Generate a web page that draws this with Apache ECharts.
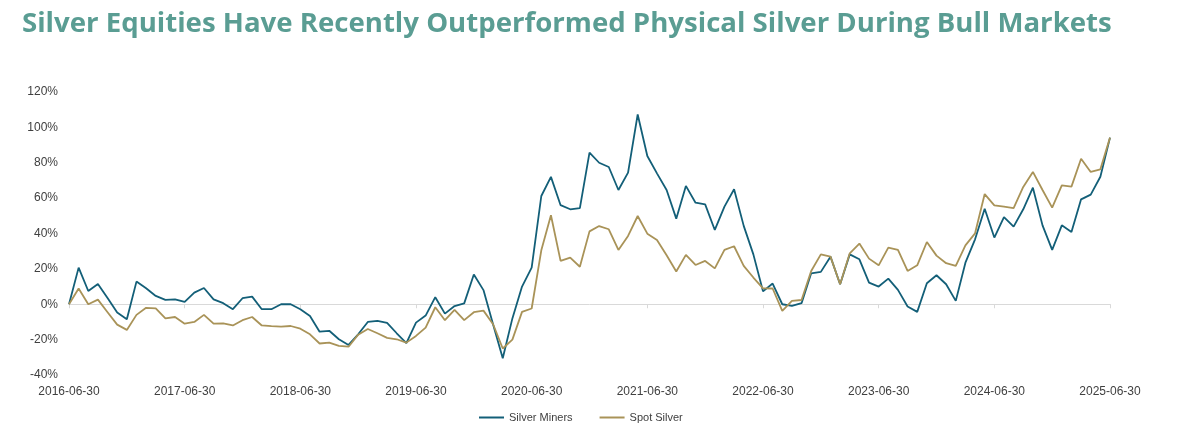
<!DOCTYPE html>
<html>
<head>
<meta charset="utf-8">
<title>Silver Equities vs Physical Silver</title>
<script src="https://cdn.jsdelivr.net/npm/echarts@6/dist/echarts.min.js"></script>
<style>
    html, body { margin: 0; padding: 0; background: #fff; }
    #chart { width: 1200px; height: 431px; }
</style>
</head>
<body>
<div id="chart"></div>
<script>
// month-end dates from 2016-06-30 to 2025-06-30
const months = [];
for (let i = 0; i <= 108; i++) {
    const d = new Date(Date.UTC(2016, 6 + i, 0));
    months.push(d.toISOString().slice(0, 10));
}

// cumulative return, %
const silverMiners = [
    0, 20.7, 7.5, 11.5, 3.5, -4.7, -8.5, 12.8, 9, 4.7, 2.5, 2.8,
    1.3, 6.6, 9.2, 2.8, 0.6, -2.8, 3.4, 4.3, -2.8, -2.8, 0, 0,
    -2.8, -6.6, -15.5, -15, -19.8, -23, -17, -10, -9.4, -10.5, -16.4, -22,
    -10.4, -6.4, 4, -5.3, -1, 0.5, 16.8, 8, -11.5, -30.5, -8, 10,
    20.7, 61.2, 72, 56, 53.7, 54.4, 85.7, 80, 77.6, 64.6, 74.4, 107.3,
    83.8, 74, 64.6, 48.4, 66.9, 57.4, 56.5, 42, 55.2, 65, 44.3, 28.2,
    7.3, 11.7, 0, -0.9, 0.6, 17.5, 18.3, 26.9, 11.3, 28.2, 25.4, 12.2,
    10, 14.5, 8.1, -1.3, -4.3, 11.9, 16.4, 11.3, 1.9, 23.5, 36.7, 54,
    37.7, 49.3, 43.9, 53.7, 65.9, 44.6, 30.7, 44.6, 40.9, 59.3, 62, 72.1,
    94.2
];

const spotSilver = [
    0, 8.9, 0, 2.6, -4.5, -11.5, -14.5, -6, -2, -2.3, -8, -7.2,
    -11, -10, -6, -11, -10.8, -12, -9, -7.2, -12, -12.4, -12.6, -12.3,
    -13.8, -17, -22.2, -21.7, -23.5, -24, -17.2, -14, -16.4, -19, -19.8, -21.7,
    -17.9, -13.2, -1.7, -9, -3.2, -9, -4.5, -3.6, -11.3, -25, -20, -4.3,
    -2.4, 30.5, 50.3, 24.5, 26.4, 21.2, 41.2, 44.2, 42.4, 30.7, 38.6, 49.9,
    39.9, 36.3, 27.7, 18.5, 27.9, 22.2, 24.5, 20.3, 30.7, 32.8, 21.7, 15.1,
    9, 8.9, -3.8, 1.9, 2.4, 18.8, 28.2, 26.9, 11.3, 28.8, 34.3, 25.8,
    22, 32, 30.7, 18.8, 22, 35.2, 27.5, 23.2, 21.7, 33.3, 40.1, 62.3,
    55.9, 55.2, 54.4, 66.3, 74.8, 64.6, 54.6, 67.2, 66.5, 82.3, 74.8, 76.3,
    94.2
];

const chart = echarts.init(document.getElementById('chart'));

chart.setOption({
    animation: false,
    title: {
        text: 'Silver Equities Have Recently Outperformed Physical Silver During Bull Markets',
        left: 17,
        top: 5,
        textStyle: {
            fontFamily: 'Open Sans',
            fontWeight: 'bold',
            fontSize: 27.6,
            color: '#5a9d93'
        }
    },
    legend: {
        bottom: 3,
        left: 474,
        icon: 'rect',
        itemWidth: 25,
        itemHeight: 2,
        itemGap: 27,
        textStyle: {
            fontFamily: 'Liberation Sans',
            fontSize: 11,
            color: '#404040'
        },
        data: ['Silver Miners', 'Spot Silver']
    },
    grid: {
        left: 69,
        right: 90,
        top: 92,
        bottom: 56
    },
    xAxis: [
        {
            type: 'category',
            data: months,
            boundaryGap: false,
            position: 'bottom',
            axisLine: { show: false, onZero: false },
            axisTick: { show: false },
            axisLabel: {
                interval: 11,
                margin: 11,
                fontFamily: 'Liberation Sans',
                fontSize: 12,
                color: '#404040'
            }
        },
        {
            // light zero line with yearly ticks
            type: 'category',
            data: months,
            boundaryGap: false,
            position: 'bottom',
            axisLine: { show: true, onZero: true, lineStyle: { color: '#d9d9d9', width: 1 } },
            axisTick: { show: true, interval: 11, length: 4, lineStyle: { color: '#d9d9d9' } },
            axisLabel: { show: false },
            splitLine: { show: false }
        }
    ],
    yAxis: {
        type: 'value',
        min: -40,
        max: 120,
        interval: 20,
        axisLine: { show: false },
        axisTick: { show: false },
        splitLine: { show: false },
        axisLabel: {
            formatter: '{value}%',
            margin: 11,
            fontFamily: 'Liberation Sans',
            fontSize: 12,
            color: '#404040'
        }
    },
    series: [
        {
            name: 'Silver Miners',
            type: 'line',
            xAxisIndex: 0,
            data: silverMiners,
            symbol: 'none',
            lineStyle: { color: '#135f78', width: 1.8 },
            itemStyle: { color: '#135f78' }
        },
        {
            name: 'Spot Silver',
            type: 'line',
            xAxisIndex: 0,
            data: spotSilver,
            symbol: 'none',
            lineStyle: { color: '#a99358', width: 1.8 },
            itemStyle: { color: '#a99358' }
        }
    ]
});
</script>
</body>
</html>
